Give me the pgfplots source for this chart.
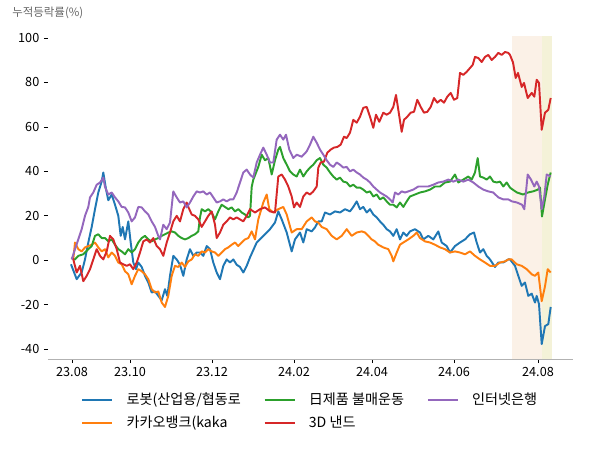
\documentclass[border=0pt]{standalone}
\usepackage{fontspec}
\setmainfont{Noto Sans CJK KR}
\usepackage{pgfplots}
\pgfplotsset{compat=1.18}
\definecolor{cblue}{HTML}{1F77B4}
\definecolor{corange}{HTML}{FF7F0E}
\definecolor{cgreen}{HTML}{2CA02C}
\definecolor{cred}{HTML}{D62728}
\definecolor{cpurple}{HTML}{9467BD}
\definecolor{spanorange}{HTML}{FBF1E7}
\definecolor{spanyellow}{HTML}{F4F2D8}

% x = trading position (px offset from first date), y = cumulative return (%)
\begin{document}
\begin{tikzpicture}[font=\fontsize{9.5}{11}\selectfont]
\useasboundingbox (-36pt,-68.25pt) rectangle (414pt,269.25pt);
\begin{axis}[
    at={(0,0)}, anchor=south west, scale only axis,
    width=393.75pt, height=242.25pt,
    xmin=-24, xmax=501, ymin=-44.4, ymax=100.9,
    axis lines=left, axis line style={-},
    x axis line style={draw=black!30},
    y axis line style={draw=none},
    xtick={0,58,140,222,300,382,466},
    xticklabels={23.08,23.10,23.12,24.02,24.04,24.06,24.08},
    ytick={-40,-20,0,20,40,60,80,100},
    yticklabels={-40,-20,0,20,40,60,80,100},
    tick align=outside, major tick length=3pt,
    tick style={black, line width=0.6pt},
    tick label style={font=\fontsize{9.5}{11}\selectfont},
    transpose legend,
    legend columns=2,
    legend cell align=left,
    legend style={draw=none, fill=none, at={(0.5,-0.087)}, anchor=north,
        font=\fontsize{10.6}{12}\selectfont, row sep=3pt,
        /tikz/every odd column/.append style={column sep=8pt},
        /tikz/every even column/.append style={column sep=15pt},
        /tikz/column 4/.append style={column sep=24pt}},
    legend image code/.code={\draw[#1] (0pt,0pt) -- (22.5pt,0pt);},
    every axis plot/.append style={line width=1.45pt, line join=round},
]

% shaded periods
\addplot[draw=none, fill=spanorange, forget plot] coordinates {(440,-44.4) (440,100.9) (470,100.9) (470,-44.4)} -- cycle;
\addplot[draw=none, fill=spanyellow, forget plot] coordinates {(470,-44.4) (470,100.9) (480,100.9) (480,-44.4)} -- cycle;

% 로봇(산업용/협동로봇)
\addplot[cblue] coordinates {
(-1,-1.8) (4.7,-8.5) (9.7,-5.4) (13,0.4) (16.3,8) (19.7,15) (23,23) (26.3,30.5) (29.7,35.5) (31.3,39.5)
(34,32) (36.3,27) (39.7,29.6) (43,25) (46.3,20) (48.7,11) (50.7,15) (53,9.4) (56.3,17.5) (58.7,8)
(61.3,-1) (64,-4) (66.3,-1) (69.7,-3) (73,-7) (76.3,-10) (79.7,-14.5) (83,-14) (86.3,-16) (89.7,-18)
(93,-13) (95.3,-16) (98,-7) (101.3,2) (104.7,0.4) (108,-2) (111.3,-7) (114.7,0.4) (118,5) (121.3,2)
(124.7,3.5) (128,3.5) (131.3,2) (134.7,6.4) (138,5) (141.3,-1) (144.7,-5.5) (148,-8.5) (151.3,-2.5) (154.7,0.4)
(158,-1) (161.3,0.4) (164.7,-2) (168,-3) (171.3,-5.5) (174.7,-2.5) (178,1.3) (184.7,8) (191.3,11) (198,14)
(203,17) (206.3,22) (209.7,18.4) (214.7,12.5) (219.7,4) (223,9.4) (228,12.5) (231.3,8) (234.7,14) (239.7,13)
(243,14.8) (246.3,17.5) (249.7,17.5) (253,21.5) (258,20.6) (263,22) (268,21.5) (273,23) (278,22) (281.3,24)
(284.7,26.5) (288,23) (291.3,24) (294.7,21.5) (298,23) (301.3,20.6) (304.7,19.3) (308,17.5) (311.3,16) (314.7,14)
(318,13) (321.3,11) (324.7,14) (328,9.4) (331.3,12.5) (334.7,11) (338,13) (343,14) (348,12.5) (351.3,9.4)
(356.3,11) (361.3,9.4) (366.3,13) (369.7,8) (374.7,6.4) (378,3.5) (383,6.4) (388,8) (393,9.4) (398,11.7)
(402,12.5) (404.7,8) (408,3.5) (411.3,5) (414.7,2) (418,0.4) (423,-3) (426.3,-1) (431.3,-1) (436.3,0.4)
(438,0.4) (443,-2.5) (446.3,-7) (449.7,-11.5) (453,-10) (456.3,-16) (459.7,-15) (463,-19) (464.7,-16) (467,-19.7)
(469.7,-37.7) (473,-29.6) (476.3,-28.7) (478.7,-21)
};
\addlegendentry{로봇(산업용/협동로}

% 카카오뱅크
\addplot[corange] coordinates {
(1.3,0.4) (3,8) (6.3,5) (9.7,4) (13,5.8) (16.3,6.4) (19.7,7) (23,8) (26.3,5.8) (29.7,4)
(33,5) (36.3,1.3) (39.7,3.5) (43,2) (46.3,-1) (49.7,-1.8) (53,-4.9) (56.3,-6.3) (59.7,-10.8) (63,-7)
(66.3,-4) (69.7,-4.9) (73,-6.3) (76.3,-8.5) (79.7,-13) (83,-14.5) (86.3,-14) (89.7,-19) (93,-21) (96.3,-16)
(99.7,-7) (103,-2.5) (106.3,-3) (109.7,-1) (113,-3) (116.3,-0.5) (119.7,0.4) (123,2.7) (126.3,2) (129.7,4)
(133,3.5) (136.3,5) (139.7,4) (143,3.5) (146.3,2) (149.7,3.5) (153,5) (156.3,5.8) (159.7,7) (163,8)
(166.3,6.4) (169.7,8) (173,9.4) (176.3,10) (179.7,13) (183,9.4) (186.3,18.4) (191.3,26) (194.7,29.6) (197.3,23)
(201.3,21.5) (206.3,23) (211.3,24) (214.7,20.6) (219.7,12.5) (224.7,14) (229.7,14) (234.7,17.5) (239.7,19.3) (243,17.5)
(246.3,17) (249.7,15) (254.7,14) (259.7,11) (264.7,9.4) (269.7,11) (274.7,14) (279.7,11) (284.7,12.5) (289.7,13)
(293,12.5) (296.3,11) (299.7,9.4) (303,8.5) (306.3,7) (311.3,5.8) (316.3,5) (319.7,2) (321.3,-0.5) (324.7,3.5)
(328,7) (331.3,8) (336.3,9.4) (341.3,11) (344.7,12.5) (348,10) (353,8.5) (358,8) (363,7) (368,5.8)
(373,5) (378,3.5) (383,4) (388,3.5) (393,2.7) (398,4) (403,2) (408,0.4) (413,-1) (418,-2.5)
(423,-2.5) (428,-1) (433,-0.5) (436.3,0.4) (439.7,0.4) (444.7,-1.8) (449.7,-2.5) (454.7,-4) (459.7,-6.3) (463,-7)
(466.3,-5.5) (469.7,-18.4) (473,-11.7) (475.7,-4) (478.7,-5.5)
};
\addlegendentry{카카오뱅크(kaka}

% 日제품 불매운동
\addplot[cgreen] coordinates {
(1.3,0.4) (3,0.4) (6.3,2) (11.3,2.7) (16.3,5) (19.7,6.4) (23,11) (26.3,11.7) (29.7,10) (33,10)
(36.3,8.5) (39.7,9.4) (43,7) (46.3,5) (49.7,4) (53,2.7) (56.3,5) (59.7,3.5) (63,5) (66.3,8)
(69.7,10) (73,11) (76.3,9.4) (79.7,8.5) (83,9.4) (86.3,10) (89.7,11) (93,11.7) (96.3,12.5) (99.7,13)
(103,12.5) (106.3,11) (109.7,10) (113,9.4) (116.3,10) (119.7,11) (123,11.7) (126.3,13) (128,19.3) (129.7,23)
(133,22) (136.3,23) (139.7,21.5) (143,18.4) (146.3,22) (149.7,25) (153,24) (156.3,23) (159.7,23.8) (163,22)
(166.3,23) (169.7,21.5) (173,20.6) (176.3,19.3) (178,20) (179.7,33) (181.3,36.3) (186.3,42) (189.7,47.5) (193,45)
(196.3,46) (199.7,38.6) (203,45) (206.3,49.8) (208,51) (211.3,46) (214.7,43) (218,40) (221.3,38.6) (224.7,37.7)
(228,40.8) (231.3,37.7) (234.7,40) (238,41.7) (241.3,43) (244.7,45) (248,46) (251.3,43) (254.7,41.7) (258,39.5)
(261.3,37.7) (264.7,36.3) (268,37.2) (271.3,35.4) (274.7,35) (278,33.2) (281.3,34) (284.7,32.7) (288,32.7) (291.3,31.8)
(294.7,30.5) (298,31) (301.3,28.7) (304.7,29.6) (308,27.4) (311.3,28.3) (314.7,26.5) (318,25) (321.3,25) (324.7,23.8)
(328,26) (331.3,24) (334.7,26.5) (338,28.7) (343,29.6) (348,30.5) (353,31) (358,31.8) (363,33.2) (368,33.2)
(373,35) (378,35.4) (383,38.6) (386.3,35) (391.3,36.3) (396.3,37.7) (399.7,36.3) (403,39.5) (405.7,46) (408,37.7)
(411.3,37.2) (414.7,36.3) (418,37.7) (421.3,35.4) (424.7,35) (428,35.4) (431.3,33.2) (434.7,35) (438,32.7) (440,32)
(445,30.5) (451,29.6) (456,30.5) (461,31) (466,31.8) (468,32.7) (470,19.7) (473,27.4) (475.7,34) (478.7,39.5)
};
\addlegendentry{日제품 불매운동}

% 3D 낸드
\addplot[cred] coordinates {
(-0.3,1.3) (1.3,0.4) (4.7,-5.5) (8,-2.5) (11.3,-9.4) (14.7,-7) (18,-4) (21.3,0.4) (24.7,5) (28,2)
(31.3,0.4) (34.7,4) (38,11) (41.3,9.4) (44.7,5) (48,-1) (51.3,-1.8) (54.7,-2.5) (58,-1.8) (61.3,-4)
(64.7,-1) (68,3.5) (71.3,8.5) (74.7,9.4) (78,8) (81.3,10) (84.7,6.4) (88,5) (91.3,2) (94.7,8)
(98,12.5) (101.3,17.5) (104.7,20) (108,17.5) (111.3,23) (114.7,26) (116.3,24) (119.7,20.6) (123,20) (126.3,18.4)
(129.7,15) (133,17.5) (136.3,20) (139.7,22) (143,16) (144.7,10) (148,12.5) (151.3,16) (154.7,17.5) (158,19.3)
(161.3,18.4) (164.7,19.3) (168,18.4) (171.3,17.5) (174.7,20) (178,23) (183,21.5) (188,23) (193,23.8) (198,22)
(203,21.5) (206.3,37.7) (209.7,38.6) (213,36.3) (216.3,33.2) (219.7,28.7) (222,23.8) (224.7,26) (228,24) (231.3,28.7)
(234.7,30.5) (238,29.6) (241.3,31) (244.7,33.2) (246.3,41.7) (248.7,44) (252,44.4) (255.3,48.4) (258.7,49.8) (262,50.7)
(265.3,51) (268.7,52) (272,55.6) (274.7,55) (278,57.4) (281.3,63.2) (284.7,61.9) (288,64.6) (291.3,68.6) (294.7,69)
(298,64.6) (301.3,59.6) (304,65.5) (307.3,62.3) (311.3,66.4) (314.7,65.5) (318,66.4) (321.3,69) (324,74.4) (326.3,67.7)
(329.7,57.8) (332,63.2) (335.3,64.6) (338.7,66.4) (342,66.8) (345.3,72.2) (348.7,69) (352,66.4) (355.3,66.8) (358.7,69)
(362,73) (365.3,70.9) (368.7,72.2) (372,70.9) (375.3,73.6) (378.7,75.3) (382,72.2) (385.3,73) (388,84.3) (391.3,83.4)
(394.7,84.8) (398,86.5) (400.7,87.9) (403,91.5) (406.3,91) (409.7,89.2) (413,91.5) (416.3,92.4) (419.7,90.1) (423,91.5)
(426.3,93.3) (429.7,92.4) (433,93.7) (436.3,93.3) (438,92.4) (441,89) (443.7,82) (446,84.3) (449.7,78) (452,79.8)
(455.7,73) (459.7,75.3) (462.3,73.6) (464.7,81.2) (467,79.8) (469.7,58.7) (473,66.4) (476.3,67.7) (478.7,73)
};
\addlegendentry{3D 낸드}

% 인터넷은행
\addplot[cpurple] coordinates {
(-0.3,0.4) (3,5) (6.3,9.4) (9.7,14) (13,20) (16.3,24) (18,28.3) (21.3,30.5) (24.7,34) (28,35)
(31.3,37.2) (33,33) (36.3,29.6) (39.7,30.5) (43,28.3) (46.3,26.5) (49.7,24) (53,23.8) (56.3,21.5) (59.7,17.5)
(63,19.3) (66.3,24) (69.7,23.8) (73,22) (76.3,20.6) (79.7,17.5) (83,15) (86.3,11) (88,9.4) (91.3,16)
(94.7,14) (98,17) (101.3,31) (104.7,28.3) (108,26) (111.3,26.5) (114.7,23.8) (118,26) (121.3,28.7) (124.7,31)
(128,30.5) (131.3,31) (134.7,29.6) (138,30.5) (141.3,28.3) (144.7,26) (148,26.5) (151.3,27.4) (154.7,26.5) (158,27.4)
(161.3,27.4) (164.7,30.5) (168,35) (171.3,39.5) (174.7,40.8) (178,38.6) (181.3,37.2) (184.7,44) (188,47.5) (191.3,50.7)
(194.7,47.5) (198,44) (201.3,44) (204.7,54.3) (208,56.5) (211.3,54.3) (214,56.5) (217.3,49.8) (221.3,46) (224.7,47.5)
(229.7,46.6) (234.7,49) (238,52) (241.3,55.6) (244.7,52.9) (248,49.8) (251.3,47.5) (254.7,45) (258,43) (261.3,42)
(264.7,44) (268,43) (271.3,41.7) (274.7,42) (278,40) (281.3,40.8) (284.7,39.5) (288,38.6) (291.3,37.2) (294.7,36.3)
(298,35) (301.3,33.2) (304.7,31.8) (308,30.5) (311.3,29.6) (314.7,28.7) (318,27.4) (320.7,26) (323,30.5) (326.3,29.6)
(329.7,31) (333,30.5) (336.3,31) (341.3,31.8) (346.3,33.2) (351.3,33.2) (356.3,33.2) (361.3,34) (366.3,35) (371.3,35.4)
(376.3,36.3) (381.3,35.4) (386.3,36.3) (391.3,35.4) (396.3,36.3) (401.3,35) (406.3,33.2) (411.3,31.8) (416.3,31) (421.3,30.5)
(426.3,28.3) (431.3,27.4) (436.3,27.4) (440,26.5) (445,26) (450,25) (452.3,23) (455.7,38.6) (459,36.3) (462.3,33.2)
(464.7,35.4) (467,33.2) (469.7,23) (472.3,28.7) (474.7,38.6) (478.7,37.7)
};
\addlegendentry{인터넷은행}
\end{axis}
\node[anchor=west, inner sep=0pt, text=black!60, font=\fontsize{8.6}{9}\selectfont] at (-27pt,259.5pt) {누적등락률(\%)};
\end{tikzpicture}
\end{document}
